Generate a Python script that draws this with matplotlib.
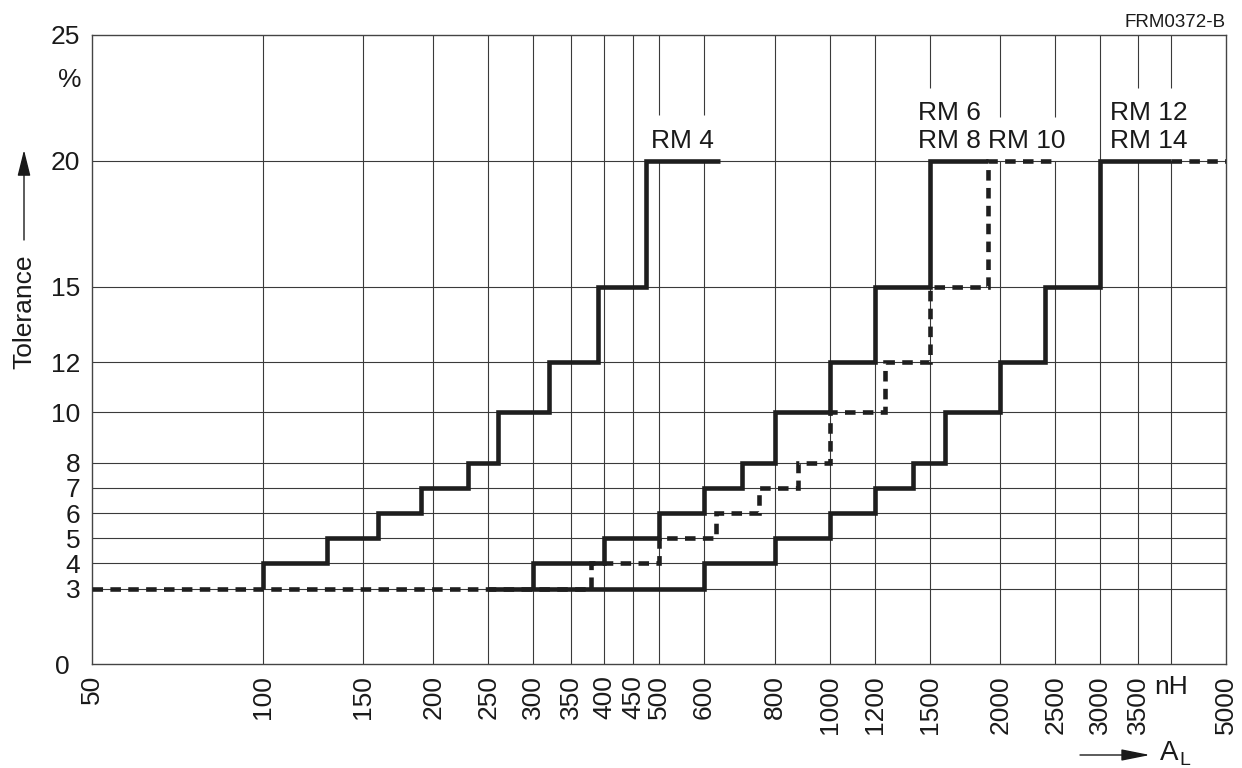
import matplotlib
matplotlib.use('Agg')
import matplotlib.pyplot as plt
from matplotlib.ticker import NullLocator

plt.rcParams['font.family'] = ['Liberation Sans', 'DejaVu Sans']

# ---------------- data ----------------
x_ticks = [50, 100, 150, 200, 250, 300, 350, 400, 450, 500, 600, 800,
           1000, 1200, 1500, 2000, 2500, 3000, 3500, 4000, 5000]
x_tick_labels = ['50', '100', '150', '200', '250', '300', '350', '400', '450',
                 '500', '600', '800', '1000', '1200', '1500', '2000', '2500',
                 '3000', '3500', 'nH', '5000']
y_ticks = [0, 3, 4, 5, 6, 7, 8, 10, 12, 15, 20, 25]
y_tick_labels = ['0', '3', '4', '5', '6', '7', '8', '10', '12', '15', '20', '25']

# step curves (A_L in nH, tolerance in %), "post" steps
rm4_AL = [100, 100, 130, 160, 190, 230, 260, 320, 390, 475, 640]
rm4_tol = [3, 4, 5, 6, 7, 8, 10, 12, 15, 20, 20]

rm6_8_AL = [300, 300, 400, 500, 600, 700, 800, 1000, 1200, 1500, 1900]
rm6_8_tol = [3, 4, 5, 6, 7, 8, 10, 12, 15, 20, 20]

rm10_AL = [50, 380, 500, 630, 750, 880, 1000, 1250, 1500, 1900, 2500]
rm10_tol = [3, 4, 5, 6, 7, 8, 10, 12, 15, 20, 20]

rm12_14_AL = [250, 600, 800, 1000, 1200, 1400, 1600, 2000, 2400, 3000, 4000]
rm12_14_tol = [3, 4, 5, 6, 7, 8, 10, 12, 15, 20, 20]
rm12_14_ext_AL = [4000, 5000]
rm12_14_ext_tol = [20, 20]

# ---------------- figure ----------------
W, H = 1242, 768
FS = 19
fig = plt.figure(figsize=(W / 100, H / 100), dpi=100)
ax = fig.add_axes([92 / W, 1 - 664 / H, (1226 - 92) / W, (664 - 35) / H])
ax.set_xscale('log')
ax.set_xlim(50, 5000)
ax.set_ylim(0, 25)
ax.xaxis.set_minor_locator(NullLocator())

GRID = '#3a3a3a'
LINE = '#1e1e1e'

# horizontal gridlines
ax.hlines(y_ticks[1:-1], 50, 5000, color=GRID, lw=0.8, zorder=1)

# vertical gridlines, broken where the labels sit
breaks = {500: 21.82, 600: 21.82, 1500: 22.9, 2000: 21.74, 2500: 21.74,
          3500: 22.9, 4000: 22.9}
for xv in x_ticks[1:-1]:
    ax.vlines(xv, 0, 20, color=GRID, lw=0.8, zorder=1)
    ax.vlines(xv, breaks.get(xv, 20), 25, color=GRID, lw=0.8, zorder=1)

solid_kw = dict(where='post', color=LINE, lw=3.3, solid_capstyle='butt',
                solid_joinstyle='miter', zorder=3)
dash_kw = dict(where='post', color=LINE, lw=3.3, ls=(0, (2.3, 1.6)),
               dash_capstyle='butt', dash_joinstyle='miter', zorder=3)

ax.step(rm10_AL, rm10_tol, **dash_kw)
ax.step(rm4_AL, rm4_tol, **solid_kw)
ax.step(rm6_8_AL, rm6_8_tol, **solid_kw)
ax.step(rm12_14_AL, rm12_14_tol, **solid_kw)
ax.step(rm12_14_ext_AL, rm12_14_ext_tol, **dash_kw)

# ticks
ax.set_xticks(x_ticks)
ax.set_xticklabels(x_tick_labels, rotation=90, fontsize=FS)
ax.set_yticks(y_ticks)
ax.set_yticklabels(y_tick_labels, fontsize=FS)
ax.tick_params(axis='both', length=0, colors='#1a1a1a')
ax.tick_params(axis='x', pad=8)
ax.tick_params(axis='y', pad=8.5)
for lab in ax.get_xticklabels():
    if lab.get_text() == 'nH':
        lab.set_rotation(0)
ax.yaxis.get_major_ticks()[0].set_pad(16)

for s in ax.spines.values():
    s.set_color('#444444')
    s.set_linewidth(1.0)

# curve labels
tk = dict(fontsize=FS, color='#1a1a1a', va='baseline', zorder=4)
ax.text(549, 20.5, 'RM 4', ha='center', **tk)
ax.text(1431, 21.62, 'RM 6', ha='left', **tk)
ax.text(1431, 20.51, 'RM 8', ha='left', **tk)
ax.text(1902, 20.51, 'RM 10', ha='left', **tk)
ax.text(3121, 21.62, 'RM 12', ha='left', **tk)
ax.text(3121, 20.51, 'RM 14', ha='left', **tk)

# outside annotations
fig.text(70 / W, 1 - 80 / H, '%', fontsize=FS, ha='center', va='center', color='#1a1a1a')
fig.text(1226 / W, 1 - 27 / H, 'FRM0372-B', fontsize=13.5, ha='right', va='baseline',
         color='#1a1a1a')
fig.text(24 / W, 1 - 312 / H, 'Tolerance', fontsize=FS, rotation=90, ha='center',
         va='center', color='#1a1a1a')
ax.annotate('', xy=(24, H - 150), xytext=(24, H - 240), xycoords='figure pixels',
            textcoords='figure pixels',
            arrowprops=dict(arrowstyle='-|>,head_length=1.0,head_width=0.25',
                            mutation_scale=16, color='#1a1a1a', lw=1.0,
                            shrinkA=0, shrinkB=0))
ax.annotate('', xy=(1150, H - 755), xytext=(1080, H - 755), xycoords='figure pixels',
            textcoords='figure pixels',
            arrowprops=dict(arrowstyle='-|>,head_length=1.1,head_width=0.22',
                            mutation_scale=16, color='#1a1a1a', lw=1.0,
                            shrinkA=0, shrinkB=0))
fig.text(1160 / W, 1 - 760 / H, 'A', fontsize=20, ha='left', va='baseline', color='#1a1a1a')
fig.text(1179 / W, 1 - 765 / H, 'L', fontsize=14, ha='left', va='baseline', color='#1a1a1a')

fig.savefig('out.png', dpi=100)
